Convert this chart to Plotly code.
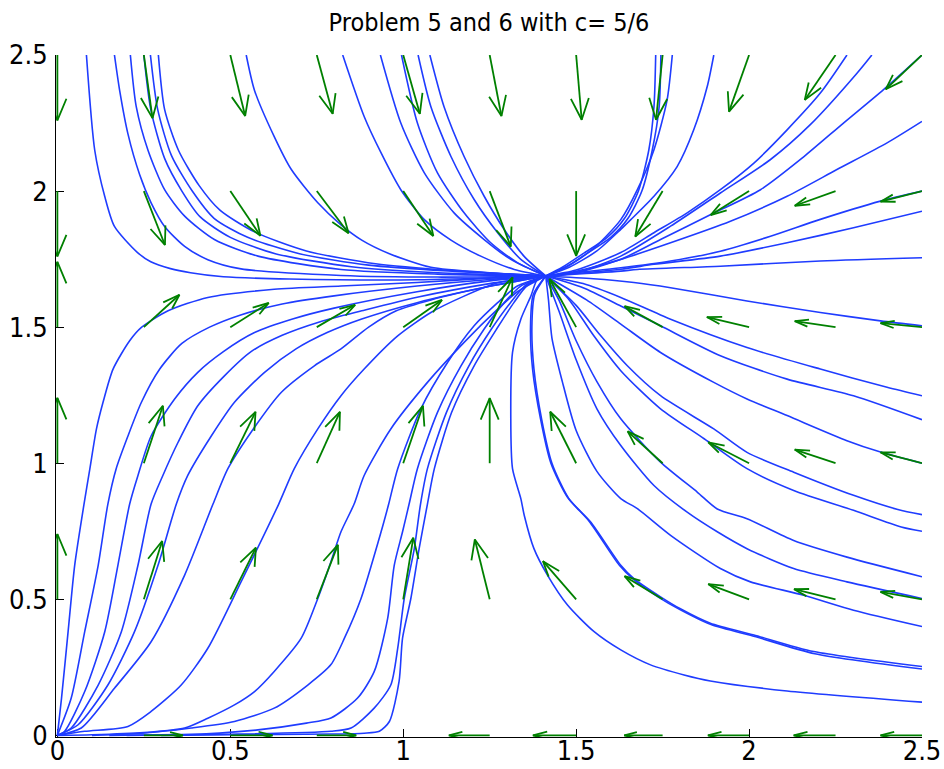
import plotly.graph_objects as go

# ---------------- data ----------------
title_text = "Problem 5 and 6 with c= 5/6"
tick_vals = [0, 0.5, 1, 1.5, 2, 2.5]
tick_text = ["0", "0.5", "1", "1.5", "2", "2.5"]

E = (1.412, 1.688)  # node where all trajectories meet

# direction-field grid and arrow components (data units)
grid_x = [0, 0.25, 0.5, 0.75, 1.0, 1.25, 1.5, 1.75, 2.0, 2.25, 2.5]
grid_y = [0, 0.5, 1.0, 1.5, 2.0, 2.5]
arrow_u = [
    [0, 0.113, 0.122, 0.114, 0, -0.118, -0.125, -0.111, -0.119, -0.121, -0.12],
    [0, 0.053, 0.074, 0.061, 0.029, -0.043, -0.096, -0.11, -0.118, -0.12, -0.12],
    [0, 0.055, 0.073, 0.067, 0.057, 0, -0.075, -0.101, -0.118, -0.118, -0.12],
    [0, 0.103, 0.111, 0.111, 0.112, 0.066, -0.077, -0.11, -0.122, -0.118, -0.12],
    [0, 0.061, 0.087, 0.092, 0.087, 0.061, 0, -0.079, -0.111, -0.118, -0.12],
    [0, 0.025, 0.043, 0.046, 0.048, 0.034, 0.016, -0.019, -0.058, -0.089, -0.105],
]
arrow_v = [
    [0, 0, 0, 0, 0, 0, 0, 0, 0, 0, 0],
    [0.24, 0.214, 0.19, 0.2, 0.226, 0.22, 0.14, 0.085, 0.056, 0.037, 0.027],
    [0.24, 0.211, 0.189, 0.189, 0.211, 0.239, 0.189, 0.117, 0.077, 0.05, 0.04],
    [0.24, 0.119, 0.089, 0.082, 0.1, 0.183, 0.177, 0.077, 0.037, 0.022, 0.015],
    [-0.24, -0.198, -0.164, -0.155, -0.165, -0.204, -0.238, -0.167, -0.088, -0.054, -0.039],
    [-0.24, -0.232, -0.224, -0.216, -0.216, -0.224, -0.238, -0.238, -0.208, -0.165, -0.126],
]

# trajectories entering from the top-left, running along y~1.69 into the node
curves_upper_left = [
    [(0.084, 2.5), (0.108, 2.15), (0.137, 1.98), (0.165, 1.87), (0.231, 1.775), (0.27, 1.74),
     (0.327, 1.715), (0.385, 1.70), (0.48, 1.685), (0.67, 1.677), (1.04, 1.674), E],
    [(0.165, 2.5), (0.18, 2.37), (0.204, 2.21), (0.238, 2.06), (0.271, 1.957), (0.31, 1.87),
     (0.368, 1.797), (0.435, 1.748), (0.531, 1.714), (0.82, 1.69), (1.1, 1.684), E],
    [(0.211, 2.5), (0.228, 2.31), (0.262, 2.15), (0.31, 2.005), (0.368, 1.908), (0.454, 1.822),
     (0.58, 1.761), (0.82, 1.712), (1.1, 1.695), E],
    [(0.25, 2.5), (0.27, 2.3), (0.31, 2.12), (0.36, 2.0), (0.413, 1.905), (0.5, 1.83),
     (0.63, 1.77), (0.85, 1.722), (1.1, 1.70), E],
    [(0.269, 2.5), (0.29, 2.3), (0.33, 2.13), (0.39, 2.0), (0.453, 1.9), (0.55, 1.83),
     (0.7, 1.77), (0.9, 1.728), (1.15, 1.705), E],
    [(0.292, 2.5), (0.31, 2.3), (0.35, 2.15), (0.41, 2.02), (0.47, 1.93), (0.57, 1.85),
     (0.72, 1.78), (0.92, 1.733), (1.15, 1.707), E],
    [(0.546, 2.5), (0.57, 2.37), (0.627, 2.2), (0.676, 2.08), (0.753, 1.957), (0.82, 1.876),
     (0.88, 1.82), (0.96, 1.77), (1.08, 1.72), (1.25, 1.70), E],
]

# trajectories entering from the top middle
curves_top_middle = [
    [(0.825, 2.5), (0.887, 2.274), (0.936, 2.14), (0.993, 2.005), (1.061, 1.895), (1.138, 1.82),
     (1.224, 1.761), (1.321, 1.712), E],
    [(0.934, 2.5), (0.993, 2.25), (1.061, 2.067), (1.147, 1.92), (1.234, 1.822), (1.311, 1.749), E],
    [(0.995, 2.5), (1.041, 2.25), (1.099, 2.067), (1.176, 1.92), (1.253, 1.81), (1.33, 1.737), E],
    [(1.043, 2.5), (1.08, 2.31), (1.138, 2.127), (1.205, 1.969), (1.273, 1.847), (1.34, 1.749), E],
    [(1.077, 2.5), (1.118, 2.31), (1.176, 2.127), (1.234, 1.981), (1.292, 1.859), (1.349, 1.761), E],
]

# trajectories entering from the top right and the upper right edge
curves_upper_right = [
    [(1.73, 2.5), (1.725, 2.31), (1.71, 2.15), (1.68, 2.0), (1.64, 1.9), (1.59, 1.83), (1.52, 1.77), (1.46, 1.72), E],
    [(1.745, 2.5), (1.74, 2.31), (1.72, 2.15), (1.69, 2.0), (1.65, 1.9), (1.60, 1.83), (1.53, 1.77), (1.47, 1.72), E],
    [(1.778, 2.5), (1.763, 2.335), (1.725, 2.152), (1.677, 2.005), (1.629, 1.895), (1.56, 1.80), (1.49, 1.735), E],
    [(1.898, 2.5), (1.879, 2.384), (1.84, 2.225), (1.792, 2.09), (1.725, 1.981), (1.658, 1.895),
     (1.629, 1.859), (1.56, 1.78), (1.48, 1.72), E],
    [(2.283, 2.5), (2.206, 2.36), (2.11, 2.225), (2.014, 2.103), (1.917, 2.005), (1.821, 1.92),
     (1.725, 1.847), (1.629, 1.774), (1.5, 1.71), E],
    [(2.355, 2.5), (2.312, 2.433), (2.177, 2.244), (2.062, 2.116), (1.917, 1.993), (1.773, 1.871),
     (1.629, 1.761), (1.5, 1.70), E],
    [(2.5, 2.5), (2.388, 2.372), (2.273, 2.25), (2.157, 2.125), (2.033, 2.005), (1.888, 1.913),
     (1.744, 1.822), (1.629, 1.749), (1.5, 1.70), E],
    [(2.5, 2.256), (2.399, 2.177), (2.254, 2.079), (2.11, 1.981), (1.946, 1.889), (1.773, 1.81),
     (1.629, 1.749), (1.5, 1.705), E],
    [(2.5, 2.0), (2.38, 1.963), (2.206, 1.896), (2.062, 1.834), (1.917, 1.779), (1.773, 1.743), (1.629, 1.718), E],
    [(2.5, 1.926), (2.302, 1.865), (2.11, 1.81), (1.917, 1.761), (1.725, 1.731), (1.629, 1.713), E],
    [(2.5, 1.755), (2.206, 1.743), (1.917, 1.724), (1.677, 1.712), (1.629, 1.706), E],
]

# trajectories entering from the lower right edge
curves_lower_right = [
    [(2.5, 1.505), (2.38, 1.523), (2.206, 1.554), (1.994, 1.596), (1.773, 1.645), (1.667, 1.664), (1.55, 1.678), E],
    [(2.5, 1.248), (2.399, 1.279), (2.206, 1.346), (1.994, 1.425), (1.773, 1.529), (1.629, 1.609), (1.52, 1.66), E],
    [(2.5, 1.16), (2.302, 1.248), (2.11, 1.309), (1.917, 1.395), (1.744, 1.505), (1.629, 1.578), (1.52, 1.645), E],
    [(2.5, 1.0), (2.38, 1.041), (2.283, 1.083), (2.11, 1.175), (1.994, 1.236), (1.898, 1.297),
     (1.744, 1.407), (1.629, 1.511), (1.53, 1.6), E],
    [(2.5, 0.811), (2.43, 0.83), (2.302, 0.882), (2.129, 0.967), (1.994, 1.04), (1.898, 1.126),
     (1.744, 1.248), (1.648, 1.358), (1.57, 1.47), (1.5, 1.58), E],
    [(2.5, 0.75), (2.44, 0.766), (2.302, 0.827), (2.129, 0.9), (1.994, 0.98), (1.87, 1.09),
     (1.744, 1.2), (1.629, 1.34), (1.55, 1.47), (1.48, 1.6), E],
    [(2.5, 0.583), (2.283, 0.655), (2.129, 0.716), (1.994, 0.796), (1.908, 0.832), (1.85, 0.894),
     (1.744, 1.004), (1.629, 1.163), (1.56, 1.3), (1.5, 1.45), (1.45, 1.6), E],
    [(2.5, 0.503), (2.283, 0.564), (2.129, 0.613), (1.994, 0.686), (1.908, 0.748), (1.82, 0.821),
     (1.725, 0.918), (1.629, 1.065), (1.56, 1.2), (1.5, 1.38), (1.45, 1.56), E],
    [(2.5, 0.4), (2.302, 0.46), (2.158, 0.515), (2.004, 0.564), (1.917, 0.613), (1.773, 0.735),
     (1.677, 0.833), (1.629, 0.87), (1.56, 0.97), (1.5, 1.12), (1.46, 1.3), (1.43, 1.46), (1.42, 1.6), E],
    [(2.5, 0.253), (2.187, 0.308), (2.014, 0.369), (1.888, 0.412), (1.80, 0.466), (1.744, 0.509),
     (1.667, 0.576), (1.629, 0.625), (1.542, 0.784), (1.479, 0.87), (1.43, 1.0), (1.4, 1.163),
     (1.378, 1.346), (1.372, 1.5), (1.38, 1.62), E],
    [(2.5, 0.244), (2.19, 0.30), (2.02, 0.362), (1.89, 0.407), (1.80, 0.462), (1.74, 0.506),
     (1.665, 0.574), (1.625, 0.625), (1.538, 0.786), (1.475, 0.875), (1.427, 1.0), (1.397, 1.163),
     (1.374, 1.346), (1.368, 1.5), (1.376, 1.62), E],
    [(2.5, 0.122), (2.11, 0.163), (1.888, 0.2), (1.812, 0.222), (1.715, 0.259), (1.629, 0.314),
     (1.552, 0.381), (1.475, 0.479), (1.417, 0.589), (1.378, 0.686), (1.35, 0.808), (1.34, 0.87),
     (1.316, 0.98), (1.311, 1.163), (1.316, 1.407), (1.34, 1.529), (1.369, 1.614), (1.388, 1.676), E],
]

# trajectories leaving the origin / the x axis and rising to the node
curves_lower_left = [
    [(0, 0), (0.012, 0.137), (0.031, 0.381), (0.05, 0.625), (0.077, 0.85), (0.094, 0.98), (0.113, 1.126),
     (0.132, 1.224), (0.161, 1.346), (0.209, 1.45), (0.243, 1.499), (0.32, 1.56), (0.435, 1.609),
     (0.627, 1.639), (0.82, 1.651), (1.04, 1.664), (1.25, 1.68), E],
    [(0, 0), (0.04, 0.137), (0.079, 0.381), (0.118, 0.625), (0.146, 0.85), (0.17, 0.98), (0.204, 1.1),
     (0.243, 1.224), (0.296, 1.346), (0.36, 1.44), (0.44, 1.50), (0.53, 1.545), (0.65, 1.585),
     (0.8, 1.615), (1.04, 1.651), (1.25, 1.675), E],
    [(0, 0), (0.021, 0.015), (0.079, 0.161), (0.137, 0.381), (0.175, 0.625), (0.209, 0.85), (0.233, 0.955),
     (0.271, 1.1), (0.339, 1.236), (0.406, 1.334), (0.48, 1.41), (0.57, 1.48), (0.68, 1.53),
     (0.8, 1.57), (1.04, 1.63), (1.25, 1.67), E],
    [(0, 0), (0.04, 0.027), (0.118, 0.185), (0.185, 0.381), (0.233, 0.625), (0.271, 0.85), (0.305, 0.955),
     (0.349, 1.077), (0.406, 1.211), (0.483, 1.321), (0.56, 1.41), (0.65, 1.47), (0.76, 1.52),
     (0.88, 1.56), (1.04, 1.61), (1.25, 1.66), E],
    [(0, 0), (0.06, 0.039), (0.146, 0.185), (0.223, 0.381), (0.291, 0.625), (0.344, 0.85), (0.377, 0.955),
     (0.445, 1.1), (0.512, 1.224), (0.599, 1.334), (0.69, 1.42), (0.78, 1.48), (0.88, 1.53),
     (1.04, 1.59), (1.25, 1.65), E],
    [(0, 0), (0.069, 0.027), (0.165, 0.173), (0.271, 0.344), (0.368, 0.589), (0.45, 0.85), (0.493, 0.98),
     (0.56, 1.114), (0.647, 1.26), (0.743, 1.358), (0.82, 1.42), (0.9, 1.5), (0.98, 1.56),
     (1.08, 1.60), (1.25, 1.65), E],
    [(0, 0), (0.079, 0.015), (0.204, 0.033), (0.271, 0.088), (0.358, 0.185), (0.435, 0.32), (0.531, 0.564),
     (0.64, 0.85), (0.685, 0.98), (0.753, 1.126), (0.82, 1.248), (0.887, 1.346), (0.984, 1.468),
     (1.08, 1.554), (1.176, 1.614), (1.273, 1.663), E],
    [(0, 0), (0.1, 0.002), (0.25, 0.01), (0.368, 0.027), (0.435, 0.063), (0.512, 0.112), (0.57, 0.161),
     (0.627, 0.235), (0.705, 0.357), (0.753, 0.503), (0.791, 0.638), (0.82, 0.748), (0.858, 0.85),
     (0.887, 0.955), (0.964, 1.126), (1.07, 1.297), (1.176, 1.444), (1.273, 1.566), (1.33, 1.63), E],
    [(0.1, 0.0), (0.243, 0.008), (0.387, 0.027), (0.512, 0.051), (0.627, 0.1), (0.724, 0.185),
     (0.791, 0.26), (0.83, 0.357), (0.878, 0.503), (0.936, 0.748), (0.958, 0.85), (0.984, 0.98),
     (1.051, 1.2), (1.128, 1.37), (1.205, 1.505), (1.273, 1.59), (1.33, 1.651), E],
    [(0.15, 0.0), (0.43, 0.006), (0.58, 0.02), (0.72, 0.045), (0.791, 0.064), (0.868, 0.137),
     (0.916, 0.234), (0.955, 0.43), (0.974, 0.625), (0.998, 0.748), (1.017, 0.85), (1.041, 0.98),
     (1.099, 1.187), (1.167, 1.358), (1.234, 1.493), (1.292, 1.59), (1.34, 1.651), E],
    [(0.2, 0.0), (0.5, 0.004), (0.791, 0.015), (0.849, 0.027), (0.916, 0.1), (0.964, 0.185),
     (0.984, 0.32), (1.003, 0.503), (1.032, 0.686), (1.05, 0.85), (1.07, 0.98), (1.125, 1.187),
     (1.19, 1.358), (1.255, 1.493), (1.31, 1.59), (1.355, 1.655), E],
    [(0.3, 0.0), (0.5, 0.002), (0.791, 0.005), (0.887, 0.008), (0.931, 0.015), (0.96, 0.051),
     (0.988, 0.198), (0.998, 0.357), (1.022, 0.503), (1.046, 0.686), (1.07, 0.85), (1.09, 0.98),
     (1.14, 1.187), (1.205, 1.358), (1.27, 1.493), (1.32, 1.59), (1.36, 1.655), E],
]

# ---------------- build traces ----------------
all_curves = curves_upper_left + curves_top_middle + curves_upper_right + curves_lower_right + curves_lower_left
cx, cy = [], []
for c in all_curves:
    cx += [p[0] for p in c] + [None]
    cy += [p[1] for p in c] + [None]

ALPHA, BETA = 0.33, 0.33  # quiver arrow-head proportions
ax_, ay_ = [], []
for j, y0 in enumerate(grid_y):
    for i, x0 in enumerate(grid_x):
        u, v = arrow_u[j][i], arrow_v[j][i]
        tx, ty = x0 + u, y0 + v
        ax_ += [x0, tx, None]
        ay_ += [y0, ty, None]
        if u == 0 and v == 0:
            continue
        ax_ += [tx - ALPHA * (u + BETA * v), tx, tx - ALPHA * (u - BETA * v), None]
        ay_ += [ty - ALPHA * (v - BETA * u), ty, ty - ALPHA * (v + BETA * u), None]

fig = go.Figure()
fig.add_trace(go.Scatter(x=cx, y=cy, mode="lines", line=dict(color="#1f3cff", width=1.6, shape="spline", smoothing=0.7),
                         hoverinfo="skip", showlegend=False))
fig.add_trace(go.Scatter(x=ax_, y=ay_, mode="lines", line=dict(color="#008000", width=1.8),
                         hoverinfo="skip", showlegend=False))

font_family = "Liberation Sans Narrow, Arial Narrow, DejaVu Sans Condensed, Liberation Sans, sans-serif"
axis_common = dict(
    tickvals=tick_vals, ticktext=tick_text, ticks="inside", ticklen=8, tickwidth=1, tickcolor="black",
    showline=True, linecolor="black", linewidth=1, mirror=False, showgrid=False, zeroline=False,
    tickfont=dict(family=font_family, size=27, color="black"), layer="below traces", fixedrange=True,
    automargin=False,
)
fig.update_layout(
    width=944, height=769,
    margin=dict(l=56, r=22, t=55, b=32),
    paper_bgcolor="white", plot_bgcolor="white",
    title=dict(text=title_text, x=0.5, xref="paper", xanchor="center", y=1 - 22 / 769, yref="container",
               yanchor="middle", font=dict(family=font_family, size=25, color="black")),
    xaxis=dict(range=[-0.004, 2.5], ticklabelstandoff=-10, **axis_common),
    yaxis=dict(range=[-0.006, 2.5], ticklabelstandoff=2, **axis_common),
)
fig.write_html("out.html")
